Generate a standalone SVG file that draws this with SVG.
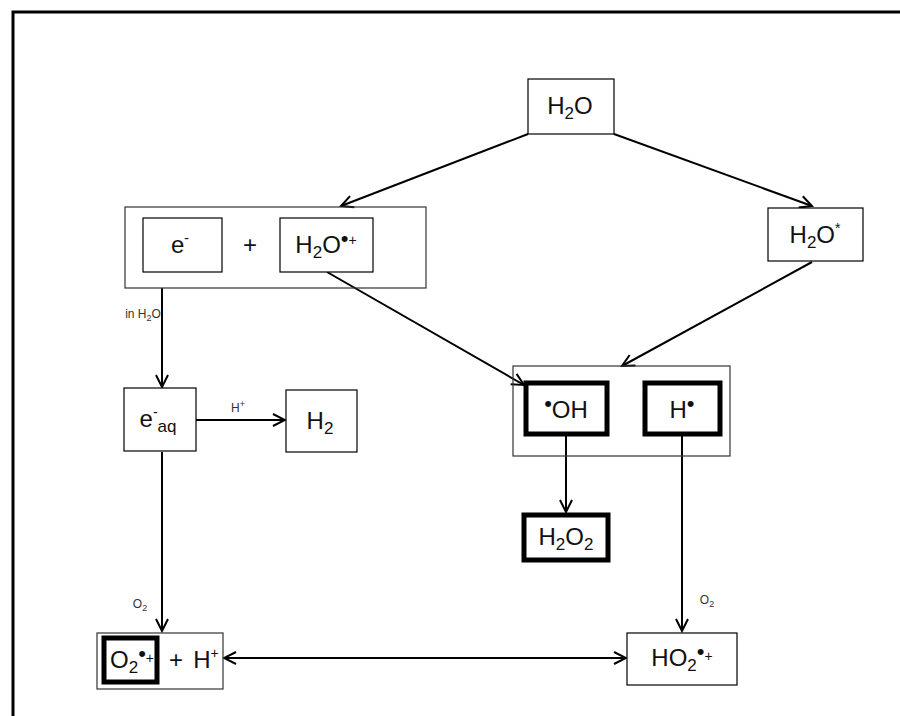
<svg xmlns="http://www.w3.org/2000/svg" width="900" height="716" viewBox="0 0 900 716">
<defs>
<marker id="arr" markerWidth="16" markerHeight="16" refX="14" refY="8" orient="auto" markerUnits="userSpaceOnUse">
<path d="M2,2 L14,8 L2,14" fill="none" stroke="#000" stroke-width="2"/>
</marker>
<marker id="arrs" markerWidth="16" markerHeight="16" refX="14" refY="8" orient="auto-start-reverse" markerUnits="userSpaceOnUse">
<path d="M2,2 L14,8 L2,14" fill="none" stroke="#000" stroke-width="2"/>
</marker>
<style>
.box{fill:#fff;stroke:#000;stroke-width:1.2}
.thick{fill:#fff;stroke:#000;stroke-width:5}
.grp{fill:none;stroke:#333;stroke-width:1.2}
.t{font-family:"Liberation Sans",Arial,sans-serif;font-size:24px;fill:#111;text-anchor:middle}
.lbl{font-family:"Liberation Sans",Arial,sans-serif;font-size:12px;fill:#333;text-anchor:middle}
.c{stroke:#000;stroke-width:2;fill:none}
.dot{font-size:22px}
.sp{font-size:14px}
</style>
</defs>
<rect width="900" height="716" fill="#fff"/>
<path d="M13,716 L13,12 L900,12" fill="none" stroke="#000" stroke-width="3"/>

<g id="connectors">
<line class="c" x1="528" y1="134" x2="341" y2="206" marker-end="url(#arr)"/>
<line class="c" x1="614" y1="134" x2="812" y2="206" marker-end="url(#arr)"/>
<line class="c" x1="327" y1="272" x2="524" y2="385" marker-end="url(#arr)"/>
<line class="c" x1="812" y1="262" x2="622" y2="366" marker-end="url(#arr)"/>
<line class="c" x1="162" y1="288" x2="162" y2="387" marker-end="url(#arr)"/>
<line class="c" x1="196" y1="420" x2="285" y2="420" marker-end="url(#arr)"/>
<line class="c" x1="162" y1="452" x2="162" y2="631" marker-end="url(#arr)"/>
<line class="c" x1="566" y1="436" x2="566" y2="512" marker-end="url(#arr)"/>
<line class="c" x1="682" y1="436" x2="682" y2="631" marker-end="url(#arr)"/>
<line class="c" x1="224" y1="658" x2="626" y2="658" marker-start="url(#arrs)" marker-end="url(#arr)"/>
<text class="lbl" x="143" y="318">in H<tspan font-size="9" dy="3">2</tspan><tspan dy="-3">O</tspan></text>
<text class="lbl" x="238" y="412">H<tspan font-size="9" dy="-5">+</tspan></text>
<text class="lbl" x="140" y="608">O<tspan font-size="9" dy="3">2</tspan></text>
<text class="lbl" x="707" y="604">O<tspan font-size="9" dy="3">2</tspan></text>
</g>

<g id="h2o">
<rect class="box" x="528" y="79" width="86" height="55"/>
<text class="t" x="570" y="114">H<tspan font-size="17" dy="5">2</tspan><tspan dy="-5">O</tspan></text>
</g>

<g id="ionization">
<rect class="grp" x="125" y="207" width="301" height="81"/>
<g id="electron">
<rect class="box" x="143" y="218" width="79" height="54"/>
<text class="t" x="180" y="253">e<tspan font-size="14" dy="-10">-</tspan></text>
</g>
<text class="t" x="250" y="253">+</text>
<g id="h2o-cation">
<rect class="box" x="280" y="218" width="93" height="54"/>
<text class="t" x="326" y="253">H<tspan font-size="17" dy="5">2</tspan><tspan dy="-5">O</tspan><tspan class="dot" dy="-7">•</tspan><tspan class="sp" dy="-1">+</tspan></text>
</g>
</g>

<g id="h2o-excited">
<rect class="box" x="768" y="208" width="95" height="53"/>
<text class="t" x="815" y="243">H<tspan font-size="17" dy="5">2</tspan><tspan dy="-5">O</tspan><tspan font-size="14" dy="-10">*</tspan></text>
</g>

<g id="radicals">
<rect class="grp" x="513" y="366" width="217" height="90"/>
<g id="oh">
<rect class="thick" x="526" y="383" width="81" height="51"/>
<text class="t" x="566" y="418"><tspan class="dot" dy="-7">•</tspan><tspan dy="7">OH</tspan></text>
</g>
<g id="h-radical">
<rect class="thick" x="645" y="383" width="75" height="51"/>
<text class="t" x="682" y="418">H<tspan class="dot" dy="-7">•</tspan></text>
</g>
</g>

<g id="eaq">
<rect class="box" x="124" y="388" width="72" height="63"/>
<text class="t" x="158" y="427">e<tspan font-size="14" dy="-10">-</tspan><tspan font-size="17" dy="15">aq</tspan></text>
</g>

<g id="h2">
<rect class="box" x="286" y="390" width="71" height="62"/>
<text class="t" x="320" y="429">H<tspan font-size="17" dy="5">2</tspan></text>
</g>

<g id="h2o2">
<rect class="thick" x="524" y="515" width="84" height="45"/>
<text class="t" x="566" y="545">H<tspan font-size="17" dy="5">2</tspan><tspan dy="-5">O</tspan><tspan font-size="17" dy="5">2</tspan></text>
</g>

<g id="superoxide">
<rect class="grp" x="97" y="633" width="126" height="56"/>
<g id="o2-radical">
<rect class="thick" x="104" y="638" width="53" height="44"/>
<text class="t" x="132" y="668">O<tspan font-size="17" dy="5">2</tspan><tspan class="dot" dy="-12">•</tspan><tspan class="sp" dy="2">+</tspan></text>
</g>
<text class="t" x="176" y="668">+</text>
<text class="t" x="206" y="668">H<tspan font-size="14" dy="-10">+</tspan></text>
</g>

<g id="ho2">
<rect class="box" x="627" y="633" width="110" height="52"/>
<text class="t" x="682" y="666">HO<tspan font-size="17" dy="5">2</tspan><tspan class="dot" dy="-12">•</tspan><tspan class="sp" dy="2">+</tspan></text>
</g>
</svg>
